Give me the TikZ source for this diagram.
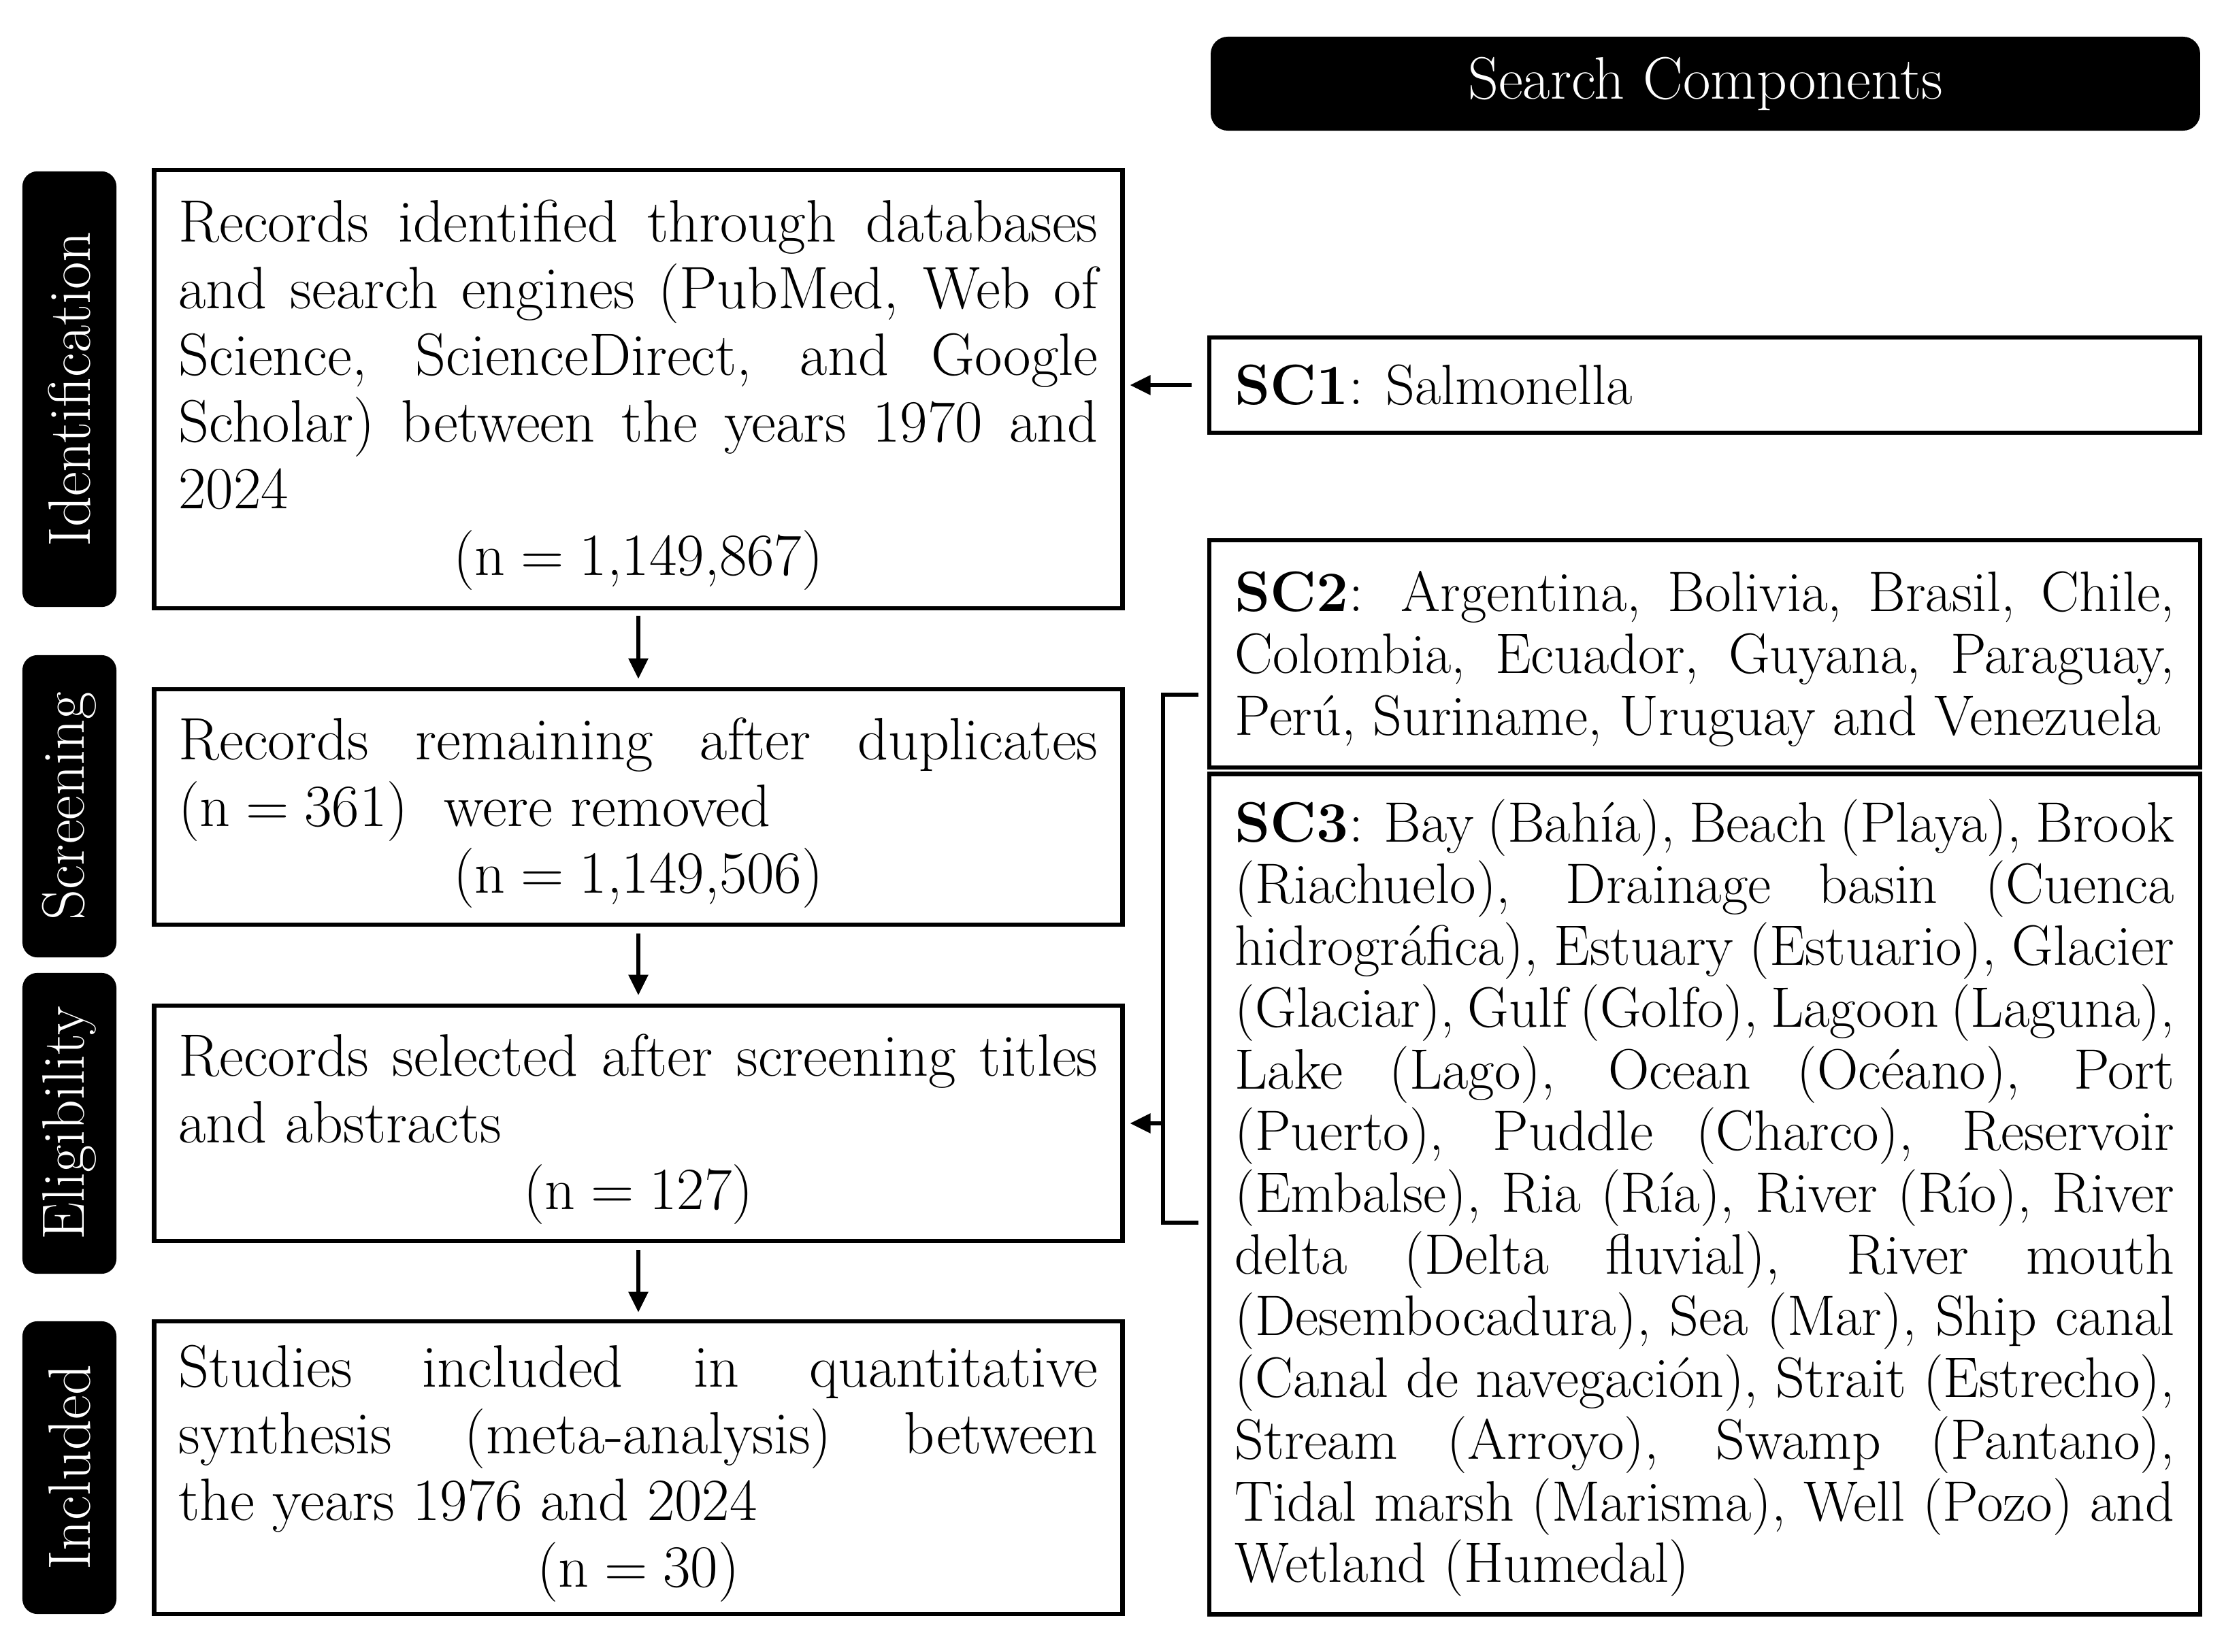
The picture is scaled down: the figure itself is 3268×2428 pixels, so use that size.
\documentclass[tikz,border=0pt]{standalone}
\usetikzlibrary{arrows.meta}
\setlength{\parindent}{0pt}
\hbadness=10000
\newcommand{\eqn}{\hspace{0.26em}=\hspace{0.26em}}
\newcommand{\lstrut}{\rule{0pt}{22.5pt}}
\newcommand{\rstrut}{\rule{0pt}{21pt}}
\begin{document}
\begin{tikzpicture}[x=0.01cm,y=-0.01cm,
  lab/.style={fill=black, rounded corners=0.22cm, text=white, rotate=90, inner sep=0pt,
    minimum height=1.38cm, font=\fontsize{25}{30}\selectfont},
  box/.style={draw, line width=1.8pt, inner sep=0pt, minimum width=14.22cm,
    align=justify, text width=13.5cm, font=\fontsize{25}{27.9}\selectfont},
  scbox/.style={draw, line width=1.8pt, inner sep=0pt, minimum width=14.55cm,
    align=justify, text width=13.8cm, font=\fontsize{23.8}{25.8}\selectfont},
  arr/.style={line width=1.6pt, -{Triangle[length=0.3cm,width=0.28cm]}},
  brk/.style={line width=1.8pt, line join=miter},
]
\useasboundingbox (0,0) rectangle (3268,2428);

% stage labels
\node[lab, minimum width=6.40cm] (lid) at (102,572) {Identification};
\node[lab, minimum width=4.44cm] (lsc) at (102,1185) {Screening};
\node[lab, minimum width=4.42cm] (lel) at (102,1651) {Eligibility};
\node[lab, minimum width=4.30cm] (lin) at (102,2157) {Included};

% main flow boxes
\node[box, minimum height=6.44cm] (b1) at (938,572) {\lstrut Records identified through databases\linebreak
and search engines (PubMed, Web of\linebreak
Science, ScienceDirect, and Google\linebreak
Scholar) between the years 1970 and\linebreak
2024\par\makebox[\hsize][c]{(n\eqn 1,149,867)}};

\node[box, minimum height=3.46cm] (b2) at (938,1186) {\lstrut Records remaining after duplicates\linebreak
(n\eqn 361)\ \ were removed\par\makebox[\hsize][c]{(n\eqn 1,149,506)}};

\node[box, minimum height=3.46cm] (b3) at (938,1651) {\lstrut Records selected after screening titles\linebreak
and abstracts\par\makebox[\hsize][c]{(n\eqn 127)}};

\node[box, minimum height=4.30cm] (b4) at (938,2157) {\lstrut Studies included in quantitative\linebreak
synthesis (meta-analysis) between\linebreak
the years 1976 and 2024\par\makebox[\hsize][c]{(n\eqn 30)}};

% search components
\node[fill=black, rounded corners=0.25cm, text=white, inner sep=0pt, minimum width=14.53cm,
  minimum height=1.38cm, font=\fontsize{25}{30}\selectfont] (sch) at (2506,123) {Search Components};

\node[scbox, minimum height=1.40cm] (sc1) at (2505,566) {\textbf{SC1}: Salmonella};

\node[scbox, minimum height=3.34cm] (sc2) at (2505,961) {\rstrut\textbf{SC2}: Argentina, Bolivia, Brasil, Chile,\linebreak
Colombia, Ecuador, Guyana, Paraguay,\linebreak
Perú, Suriname, Uruguay and Venezuela};

\node[scbox, minimum height=12.34cm] (sc3) at (2505,1755) {\rstrut\textbf{SC3}: Bay (Bahía), Beach (Playa), Brook\linebreak
(Riachuelo), Drainage basin (Cuenca\linebreak
hidrográfica), Estuary (Estuario), Glacier\linebreak
(Glaciar), Gulf (Golfo), Lagoon (Laguna),\linebreak
Lake (Lago), Ocean (Océano), Port\linebreak
(Puerto), Puddle (Charco), Reservoir\linebreak
(Embalse), Ria (Ría), River (Río), River\linebreak
delta (Delta fluvial), River mouth\linebreak
(Desembocadura), Sea (Mar), Ship canal\linebreak
(Canal de navegación), Strait (Estrecho),\linebreak
Stream (Arroyo), Swamp (Pantano),\linebreak
Tidal marsh (Marisma), Well (Pozo) and\linebreak
Wetland (Humedal)};

% flow arrows
\draw[arr, shorten <=0.08cm, shorten >=0.12cm] (b1) -- (b2);
\draw[arr, shorten <=0.10cm, shorten >=0.12cm] (b2) -- (b3);
\draw[arr, shorten <=0.10cm, shorten >=0.10cm] (b3) -- (b4);
\draw[arr, shorten <=0.23cm, shorten >=0.08cm] (sc1.west) -- (sc1.west -| b1.east);

% bracket for SC2 and SC3
\coordinate (bt) at (1761,1021);
\coordinate (bk1) at (1709,1021);
\coordinate (bk2) at (1709,1797);
\coordinate (bb) at (1761,1797);
\coordinate (bm) at (1709,1651);
\draw[brk] (bt) -- (bk1) -- (bk2) -- (bb);
\draw[arr, shorten >=0.08cm] (bm) -- (bm -| b3.east);
\end{tikzpicture}
\end{document}
